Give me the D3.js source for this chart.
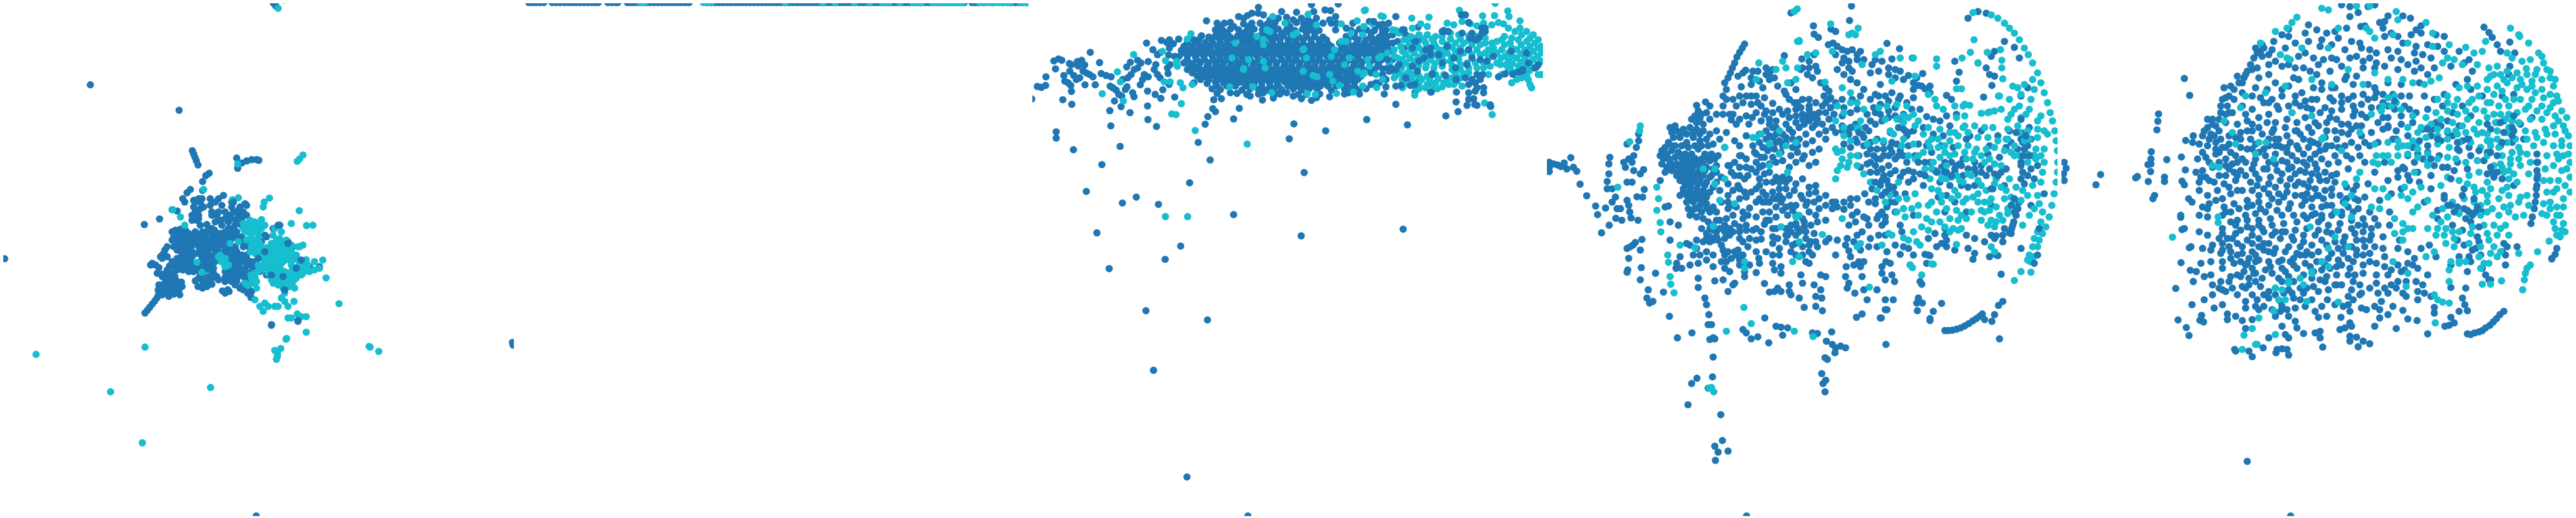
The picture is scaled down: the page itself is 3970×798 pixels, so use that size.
<!DOCTYPE html>
<html><head><meta charset="utf-8">
<script src="https://cdnjs.cloudflare.com/ajax/libs/d3/7.8.5/d3.min.js"></script>
<style>html,body{margin:0;padding:0;background:#fff}svg{display:block}</style></head><body>
<script>
const colors=["#1f77b4","#17becf"];
// Panel 1 (flat x,y lists, in embedding units)
const p1Dark=[273,256,541,333,14,781,1548,1034,1550,1042,774,1558,826,10,833,18,581,455,585,465,589,475,593,485,598,498,715,477,718,508,730,492,745,486,760,482,775,482,782,484,632,523,622,530,612,548,612,575,610,600,436,678,482,661,438,945,445,937,452,928,460,918,468,908,475,898,482,890,478,875,490,860,505,855,520,850,535,850,548,852,480,860,495,875,510,870,525,875,540,880,543,890,500,845,515,835,530,845,460,795,470,800,480,808,490,828,490,770,498,755,505,745,485,775,512,803,530,800,545,790,560,780,575,790,535,815,552,815,570,820,585,820,600,840,598,865,615,855,635,855,640,840,610,830,600,815,525,715,540,705,555,700,570,705,580,720,530,735,550,730,570,735,540,750,560,755,575,755,590,720,605,715,620,712,640,705,655,715,670,720,610,735,630,730,650,735,670,740,610,755,630,755,650,755,620,775,640,775,615,795,635,800,650,790,620,815,640,820,655,835,700,690,715,700,730,715,745,725,735,745,700,720,690,745,710,745,700,770,720,770,745,770,680,820,700,810,720,800,740,810,755,830,700,835,720,835,740,840,750,865,760,880,758,898,680,850,672,878,688,875,692,880,680,885,520,633,535,637,575,572,565,582,552,600,558,610,585,605,600,600,585,625,605,630,580,650,595,665,605,680,625,678,635,620,640,640,660,600,675,590,670,620,655,650,665,665,690,650,705,640,720,650,715,665,725,625,740,615,745,620,700,610,690,670,710,680,730,680,845,680,825,690,870,730,885,745,860,875,900,785,910,800,885,810,965,805,935,805,790,730,800,710,780,770,800,795,835,790,750,800,760,820,805,830,820,980,900,970];
const p1DarkFill=[520,700,530,695,545,692,560,695,520,725,535,720,550,715,565,720,578,745,525,745,545,742,560,745,495,765,505,775,490,780,520,790,535,780,550,772,565,770,580,775,525,805,540,805,560,800,575,805,590,810,590,700,600,725,600,745,595,765,625,700,645,715,660,730,685,710,685,730,680,755,660,760,640,745,625,745,610,775,630,785,645,810,625,800,610,805,605,825,630,835,640,858,612,870,590,848,660,845,680,805,695,790,710,795,730,790,745,795,695,805,710,815,730,815,745,825,695,825,715,850,735,860,700,850,680,838,745,850,755,880,590,640,600,650,590,610,605,610,615,625,580,665,635,600,650,610,640,650,650,670,670,680,660,640,680,640,680,660,700,660,720,635,735,640,745,650,730,660,715,640,700,625,690,690,705,700,685,700,500,865,490,890,505,885,480,885,515,860,530,865,540,860,550,865,515,880,455,800,475,825,490,835,505,815,520,825,760,790,770,790,765,810,785,820,745,780,730,770,715,760,
528,708,542,712,558,708,573,712,585,710,528,730,542,728,558,728,573,728,585,735,535,755,548,762,565,762,582,762,598,708,612,700,630,692,648,695,665,705,680,700,695,710,712,715,725,725,738,735,752,745,598,732,618,722,638,722,658,745,678,730,695,735,612,745,632,745,648,770,662,770,680,765,605,762,628,765,610,785,628,810,645,825,610,845,622,850,625,865,645,830,612,815,700,760,712,755,725,780,735,780,690,780,705,780,720,790,680,795,690,815,705,830,725,825,738,830,750,840,685,835,695,845,710,860,725,870,735,875,748,885,505,868,520,868,535,865,495,885,510,895,525,888,528,835,515,850,500,830,530,790,545,805,565,815,580,798,595,795];
const p1Teal=[109,1070,438,1048,334,1183,636,1170,430,1337,1115,1046,1118,1048,1144,1061,1024,917,985,839,925,1003,866,1022,864,1024,830,1058,848,1052,838,1065,835,1085,838,1075,840,25,718,495,898,487,905,480,915,468,814,598,798,610,795,625,904,636,880,675,926,681,615,572,545,655,522,633,558,680,720,597,702,603,790,663,775,675,760,680,745,690,770,695,755,705,735,690,780,715,760,730,745,725,720,730,695,735,665,780,680,790,665,770,690,800,595,792,610,822,785,735,790,760,770,755,830,690,850,700,825,710,845,720,860,730,835,740,855,750,870,760,835,775,855,790,840,800,815,810,830,820,845,820,860,820,880,835,900,745,880,740,915,740,905,825,840,860,830,810,850,820,865,835,840,850,855,870,860,885,850,900,840,925,830,925,810,925,795,940,800,915,785,925,770,905,860,910,870,925,870,960,890,870,850,815,895,808,910,790,925,784,950,790,965,810,975,785,950,815,880,960,888,910,898,948,910,956,925,956,945,680,905,745,850,760,880,790,880,780,862,785,858];
const p1TealFill=[745,675,755,665,770,670,785,680,750,695,765,700,780,705,760,720,775,725,775,745,760,745,755,760,770,765,780,800,795,780,805,770,820,760,835,755,850,760,865,750,880,745,820,735,835,725,850,735,865,725,820,780,835,770,850,780,865,775,800,800,815,795,830,790,810,825,825,815,820,845,835,835,850,835,865,825,880,820,895,825,910,830,885,850,870,850,855,855,840,860,825,855,875,865,895,840,915,815,930,800,905,800,900,785,935,820,918,790,668,790,680,780,690,800,660,775,680,805,760,840,775,850,770,825,795,810,775,870,760,855,740,855,
805,748,818,745,835,742,850,748,865,740,880,760,885,772,805,790,820,795,835,782,850,795,808,808,820,808,835,805,830,828,845,828,858,842,872,838,888,835,902,815,920,805,915,825,930,815,880,800,895,770,770,690,790,690,800,680,788,748,790,775,780,820,770,838,758,830,748,862,740,700,735,675];
const p1Top=[840,680,805,715,870,735,800,760,780,780,895,810,910,785,860,875,705,610,900,968,820,982,820,830,855,835,640,690,600,660];
// Panel 2 (x positions along the one-dimensional strip)
const p2DarkX=[815,820,826,832,838,851,857,863,870,876,882,888,894,900,906,912,918,922,937,943,949,952,967,972,977,983,990,996,1002,1008,1014,1020,1026,1032,1038,1044,1050,1056,1062,1090,1096,1102,1108,1114,1120,1126,1132,1138,1144,1150,1156,1162,1168,1174,1180,1186,1192,1198,1204,1210,1216,1222,1228,1234,1240,1246,1252,1258,1264,1270,1276,1282,1288,1294,1300,1306,1312,1318,1324,1330,1336,1342,1348,1354,1360,1366,1372,1378,1384,1390,1396,1402,1408,1414,1420,1426,1432,1438,1444,1450,1456,1462,1468,1474,1480,1486,1498,1503,1508,1516,1530,1545,1558,1564,1570,1576,1582];
const p2TealX=[987,993,1084,1090,1096,1210,1268,1287,1317,1340,1360,1365,1370,1387,1407,1412,1417,1420,1437,1443,1449,1455,1461,1467,1473,1479,1483,1510,1516,1522,1528,1534,1540,1546,1552,1557,1573,1578,1583,1586];
const p2Y=[4];
// Panel 3
const p3Dark=[0,299,17,261,29,264,42,258,43,232,72,208,67,184,81,178,91,182,94,301,121,315,120,276,118,258,97,228,100,245,110,250,114,192,120,195,138,186,151,182,140,199,160,196,177,158,205,189,115,215,127,228,135,240,145,235,155,214,165,220,175,225,185,232,192,256,161,256,210,222,225,228,240,232,237,260,245,265,255,272,263,285,272,290,250,305,236,334,270,322,297,340,239,380,350,320,351,361,377,382,305,280,309,292,288,262,283,270,275,240,290,235,300,225,310,210,287,202,298,188,320,182,330,190,352,186,320,205,340,225,328,256,335,240,352,232,350,275,373,285,390,297,396,271,415,255,432,293,412,222,410,205,418,195,380,225,388,235,370,210,375,195,380,165,390,158,366,150,347,130,392,122,408,128,416,120,428,132,444,118,416,145,414,166,432,170,452,152,460,140,470,128,490,120,513,108,528,63,74,398,74,417,126,452,267,442,212,497,165,578,274,613,316,595,383,617,197,703,450,743,403,783,234,811,345,938,531,966,368,1118,469,1440,653,1558,477,552,539,483,503,430,524,375,532,352,547,328,555,337,627,327,610,359,550,301,573,298,697,302,792,374,778,419,888,395,823,521,814,712,610,648,1122,692,1012,361,1135,377,1100,315,1251,350,1288,337,1282,308,1385,316,
685,22,625,50,652,47,665,40,684,40,755,35,770,52,800,37,845,14,852,35,886,30,903,32,926,12,918,50,920,70,1020,65,1060,73,1078,70,1100,50,1125,90,1167,82,1245,92,
560,70,582,70,600,68,640,72,665,70,690,70,712,72,735,68,770,70,800,68,822,72,845,68,905,70,970,70,
555,90,578,92,600,88,625,90,650,92,672,88,697,90,720,92,745,88,770,90,795,92,818,88,842,90,868,92,918,90,965,92,990,88,1012,90,1035,92,
512,110,535,112,555,108,580,110,600,112,622,108,645,110,668,112,690,108,715,110,738,112,760,108,785,110,808,112,830,108,855,110,880,112,950,110,975,112,1000,108,1025,110,1050,112,
500,130,525,128,548,132,570,130,592,128,615,132,638,130,660,128,682,132,705,130,728,128,752,132,775,130,798,128,820,132,845,130,870,128,895,132,930,130,955,128,980,132,1005,130,1030,128,1055,132,1075,130,
470,150,495,152,518,148,540,150,565,152,588,148,610,150,632,152,655,148,678,150,700,152,725,148,748,150,770,152,795,148,818,150,840,152,865,148,888,150,912,152,935,148,960,150,985,152,1010,148,1035,150,1058,152,
445,170,470,168,495,172,520,170,545,168,568,172,590,170,612,168,635,172,658,170,680,168,705,172,728,170,750,168,775,172,798,170,820,168,845,172,868,170,890,168,915,172,938,170,962,168,985,172,1010,170,1035,168,1060,172,
460,190,485,192,510,188,535,190,558,192,580,188,603,190,626,192,648,188,672,190,695,192,718,188,740,190,765,192,788,188,810,190,835,192,858,188,880,190,905,192,928,188,950,190,975,192,998,188,1022,190,1048,192,
470,210,495,208,520,212,545,210,568,208,592,212,615,210,638,208,660,212,685,210,708,208,730,212,755,210,778,208,800,212,825,210,848,208,870,212,895,210,918,208,940,212,965,210,988,208,1012,212,1035,210,1060,208,
500,230,525,232,550,228,575,230,598,232,620,228,645,230,668,232,690,228,712,230,735,232,760,228,782,230,805,232,830,228,852,230,875,232,900,228,925,230,948,232,972,228,995,230,
490,250,530,252,555,248,580,250,603,252,628,248,650,250,672,252,695,248,718,250,742,252,765,248,788,250,812,252,835,248,858,250,880,252,905,248,930,250,952,252,975,248,
545,268,570,270,635,272,660,268,685,270,708,272,730,268,755,270,790,268,815,272,838,268,862,270,905,272,945,268,965,270,988,272,
685,284,750,284,790,290,815,298,845,303,870,284,900,292,945,284,990,284,1065,284,1158,278,1207,278];
const p3DarkFill=[570,80,610,80,655,80,700,80,730,80,780,80,830,80,850,80,565,100,590,100,635,100,660,100,705,100,730,100,755,100,780,100,800,100,830,100,855,100,975,100,1000,95,1025,100,505,120,545,120,568,120,590,120,612,120,635,120,655,120,680,120,725,120,750,120,775,120,795,120,820,120,843,120,868,120,890,120,955,120,985,120,1010,120,1040,120,1062,120,485,140,510,140,535,140,560,140,582,140,605,140,628,140,650,140,672,140,695,140,718,140,740,140,765,140,785,140,810,140,832,140,855,140,880,140,905,140,945,140,970,140,995,140,1020,140,1045,140,1068,140,455,160,482,160,508,160,530,160,555,160,578,160,600,160,622,160,645,160,668,160,690,160,715,160,738,160,760,160,785,160,808,160,830,160,855,160,878,160,900,160,925,160,950,160,975,160,998,160,1022,160,1048,160,470,180,498,180,522,180,548,180,570,180,592,180,615,180,638,180,660,180,685,180,708,180,730,180,755,180,778,180,800,180,825,180,848,180,870,180,895,180,918,180,940,180,965,180,988,180,1012,180,1035,180,1058,180,478,200,505,200,530,200,555,200,578,200,600,200,622,200,645,200,668,200,690,200,715,200,738,200,762,200,785,200,808,200,830,200,855,200,878,200,900,200,925,200,948,200,972,200,995,200,1020,200,1045,200,485,220,510,220,535,220,560,220,582,220,605,220,630,220,652,220,675,220,698,220,722,220,745,220,768,220,790,220,815,220,838,220,860,220,885,220,908,220,930,220,955,220,980,220,1005,220,1025,220,510,240,535,240,562,240,588,240,610,240,635,240,658,240,680,240,702,240,725,240,750,240,772,240,795,240,820,240,842,240,865,240,890,240,915,240,938,240,960,240,985,240,560,260,590,260,615,260,645,260,670,260,695,260,720,260,745,260,775,260,800,260,825,260,848,260,872,260,895,260,920,260,955,260,975,260,1050,250,1070,240,1080,215,1090,180,1090,130,1075,110,700,280,720,275,770,280,805,285,830,285,860,295,958,280,1010,268,1070,262,1100,260,1120,242,1145,240,1170,245,
640,55,700,45,720,60,745,55,790,60,815,55,835,60,860,55,880,70,900,60,950,85,1040,80,1070,90,1090,105,1060,100,560,282,600,280,650,285,740,282,730,296,660,290,620,282,1040,250,1025,255,1060,225,1075,145,1090,155,1105,125,1125,145,1130,105,1150,125,1175,118,1075,205,1095,215];
const p3Teal=[213,283,277,305,308,165,259,217,268,247,423,344,436,346,452,313,494,394,651,435,404,654,471,654,1391,346,1368,311,1387,322,404,183,400,247,418,247,449,250,457,265,1157,287,481,102,470,118,395,155,438,185,440,200,485,255,598,262,1005,32,1008,30,1055,48,1062,50,1148,55,1200,52,1292,31,1304,45,1400,10,1438,33,1442,50,1475,63,1362,48,1398,47,
728,50,765,70,835,43,860,75,935,72,983,63,1003,80,1030,72,
615,130,605,175,640,207,655,180,680,110,700,120,720,95,710,90,700,185,705,205,640,210,822,148,800,100,790,105,820,215,830,175,862,232,850,228,700,135,820,150,915,150,905,170,935,125,950,125,965,100,1000,105,900,225,910,245,930,258,1015,180,1020,200,1005,220,985,215,1000,225,945,195,960,175,1048,175,1040,225,1060,240,921,282,972,278,1000,260,1042,264,725,280,668,262,832,283,857,285,
1090,90,1100,92,1110,100,1125,120,1150,85,1175,72,1195,80,1145,110,1170,105,1195,105,1220,110,1255,70,1275,75,1300,65,1325,72,1345,78,1365,70,1390,75,1410,68,1425,72,1440,85,1460,95,1475,85,1495,95,1515,105,1530,120,1540,140,1428,110,1405,125,1390,130,1370,115,1345,110,1320,108,1290,105,1265,100,1240,110,1215,130,1190,130,1165,130,1140,135,1115,140,1095,150,1075,160,1055,170,1080,190,1105,175,1130,165,1155,160,1180,155,1205,155,1230,150,1255,135,1280,130,1305,130,1330,135,1355,135,1380,150,1405,160,1428,135,1445,130,1470,120,1495,125,1520,130,1440,160,1465,150,1490,150,1515,155,1540,160,1440,185,1465,175,1490,175,1515,180,1538,185,1445,205,1470,200,1495,200,1520,205,1105,200,1130,190,1155,185,1180,180,1205,180,1230,175,1255,160,1280,155,1305,160,1330,165,1355,165,1380,175,1140,215,1165,210,1190,205,1215,205,1240,200,1265,185,1290,180,1315,190,1340,190,1365,190,1385,200,1095,235,1120,240,1145,230,1170,230,1195,230,1220,225,1245,225,1270,210,1295,210,1320,220,1120,265,1145,255,1170,255,1195,255,1220,250,1245,250,1270,235,1295,235,1380,225,1365,205,1170,268,1190,265,1225,268,1260,255,1300,260,1155,225,1100,228,1505,255,1510,265,1495,225,1465,240,1480,235,1450,250,1540,225,1405,190,1415,195];
const p3TealFill=[1135,120,1160,115,1185,118,1210,118,1240,125,1265,118,1295,118,1320,122,1345,122,1370,130,1395,145,1420,120,1450,115,1480,105,1505,115,1120,155,1145,150,1170,145,1195,142,1220,140,1245,150,1270,143,1295,145,1320,150,1345,150,1370,160,1392,165,1420,150,1450,145,1478,135,1505,140,1530,145,1452,170,1478,162,1502,165,1528,170,1452,192,1478,188,1505,190,1530,195,1095,170,1118,180,1142,175,1168,172,1192,168,1218,165,1242,165,1268,172,1290,170,1118,205,1142,200,1168,198,1192,195,1218,192,1245,185,1270,198,1295,195,1320,205,1345,205,1110,222,1128,225,1152,245,1178,240,1202,240,1228,238,1255,238,1280,225,1305,222,1130,252,1160,265,1210,258,1240,262,1275,255,1285,245,1440,210,1458,218,1480,220,1505,212,1430,170,1418,175,1432,195,1500,240,1530,225,1420,225];
const p3Top=[1033,65,1060,90,1050,75,1120,90,1245,95,1310,45,1298,45,1320,68,1360,85,1370,85,1370,95,1330,100,1300,100,1240,95,1160,125,1190,150,1205,145,1255,140,1230,165,1170,185,1150,145,1150,200,1210,225,1275,175,1295,155,1320,150,1340,120,1350,115,1315,195,1330,175,1355,180,1375,185,1395,170,1448,155,1495,160,1530,195,1520,205,1470,218,1500,190,1483,210,1130,235,1165,215,1110,195,1100,210,1085,205,1075,180,1185,175,1205,165,1240,190,1280,205,1325,115,1330,240,1345,225,1362,225,1310,235,1355,240,1340,250,1320,255,1345,265,1365,265,1320,280,1340,275,1365,280,1320,300,1335,298,1345,318,1315,318,1338,315,1283,278,1282,240,1250,228,1210,222,1205,278,1158,255,1144,258,1115,258,1410,232,1430,223,1453,224,1483,214,1525,202,1385,320,1258,95,1360,100];
// Panel 4
const p4Dark=[15,490,15,505,15,518,28,495,40,498,50,503,60,492,68,510,80,476,88,505,98,517,108,556,128,591,155,622,161,648,173,703,196,680,216,659,234,665,262,658,283,665,220,630,230,630,258,640,205,610,215,595,190,548,195,525,195,495,198,475,190,570,205,570,185,628,250,605,255,620,280,594,297,595,302,572,265,550,250,550,245,505,240,490,255,480,265,490,250,435,285,405,285,425,278,445,270,470,300,512,290,525,270,515,268,740,295,723,275,732,290,755,250,750,260,745,255,780,250,822,252,815,293,808,290,845,336,825,314,875,310,900,318,915,328,910,378,955,360,882,402,1020,446,1005,
928,18,922,62,745,39,813,78,815,103,828,113,866,88,880,95,1035,131,858,135,872,130,605,133,598,145,590,158,582,172,575,190,568,205,1073,147,885,140,900,150,915,155,930,150,955,155,945,165,880,165,725,168,778,178,800,185,815,165,905,175,920,185,1000,180,1020,185,1050,178,1112,175,1240,185,1310,190,1360,155,1350,170,1390,125,1420,143,1435,175,562,220,555,235,545,250,585,230,608,212,630,215,645,215,670,205,690,210,670,225,680,240,695,235,780,205,800,205,820,200,825,215,795,225,885,210,905,225,930,215,925,240,945,250,1040,205,1060,210,1075,215,1100,228,1125,235,1143,222,985,220,1015,255,1253,218,1245,245,1335,205,1345,225,1352,258,1360,230,595,262,550,270,540,290,550,300,540,320,590,290,610,290,625,255,660,265,640,290,665,295,730,285,740,300,760,270,745,250,765,310,780,300,800,320,820,310,850,265,845,290,865,295,880,310,965,270,1000,285,1030,290,1050,280,1075,290,1115,270,1130,258,1150,268,1165,280,1215,288,1230,300,1327,293,1440,290,1460,265,1115,295,460,318,487,308,500,320,625,315,655,320,690,312,
455,350,475,345,490,340,460,370,480,375,500,360,520,345,540,345,570,345,565,362,580,375,628,355,618,375,665,345,680,360,700,365,720,345,735,335,760,330,780,345,800,330,815,345,800,365,785,375,825,360,850,340,860,360,875,345,905,325,925,340,945,330,975,345,995,325,1015,315,1040,335,1060,325,1085,345,1110,330,1135,330,1155,352,1175,360,1195,365,1215,350,1245,345,
380,385,400,395,420,390,440,385,460,390,480,395,500,405,520,395,550,400,575,425,590,440,650,405,670,395,690,385,710,395,730,375,750,400,770,385,790,405,810,385,830,405,850,395,870,385,900,380,920,390,940,375,960,405,980,395,1000,375,1020,365,1045,400,1070,385,1095,410,1115,395,1145,385,1175,405,1205,410,1225,380,1285,410,1320,395,1370,410,1405,395,1440,400,1465,385,
355,455,375,430,390,415,410,415,430,430,450,415,470,425,490,420,510,435,530,420,650,430,670,420,690,415,710,425,730,430,750,445,770,420,790,435,810,425,830,450,850,420,905,435,925,445,945,430,965,415,985,430,1005,420,1025,450,1050,430,1075,455,1130,435,1155,440,1200,440,1235,445,1275,420,1345,440,1395,445,1445,430,1470,420,
350,470,370,465,385,455,405,460,425,465,445,465,465,450,485,465,505,465,525,470,545,445,555,500,575,490,590,470,610,480,635,460,655,475,675,455,695,450,715,460,745,470,765,460,785,470,810,460,950,470,975,465,995,470,1015,480,1040,470,1060,480,1095,490,1120,470,1170,460,1210,490,1245,500,1265,480,1300,490,1340,465,1375,475,1450,470,1475,470,1490,500,
355,495,380,490,400,495,420,490,440,490,460,490,480,495,500,485,520,500,520,520,535,535,565,520,590,530,605,540,625,510,640,490,660,500,680,495,700,490,720,485,740,505,760,490,780,480,800,500,820,490,955,505,975,495,1000,500,1020,510,1040,500,1060,515,1085,520,1115,520,1150,490,1180,515,1215,520,1240,520,1265,530,1300,525,1345,510,1360,525,1395,510,1445,520,1480,540,
365,520,385,515,405,520,425,515,445,515,465,520,485,515,505,530,410,545,430,540,450,540,470,545,490,550,520,550,555,555,585,560,605,580,625,580,650,560,665,525,680,520,700,535,720,535,740,540,760,555,780,540,800,565,820,580,850,590,870,610,885,625,905,632,925,620,945,600,968,585,990,570,1015,560,1035,545,1055,565,1100,550,1145,560,1195,550,1225,560,1280,565,1355,570,1450,555,1510,585,
350,545,420,570,440,565,460,570,480,575,410,590,430,590,450,590,470,600,490,595,530,575,555,610,590,600,610,595,650,600,670,590,690,580,710,570,730,550,755,575,775,590,795,610,815,610,830,630,945,640,965,655,980,680,1000,615,1020,640,1045,610,1060,640,1030,670,1020,680,1075,680,1115,650,1210,640,1240,610,1275,640,1350,620,1435,610,1430,630,1425,650,1418,670,1412,690,1470,620,
365,625,375,622,430,610,450,610,470,620,490,615,435,630,455,630,475,640,500,640,520,640,555,630,580,625,620,628,680,640,700,625,720,635,760,650,780,660,800,640,820,650,850,665,930,650,940,670,920,680,975,660,1010,650,1030,655,1080,700,
380,670,405,680,440,650,460,655,480,660,500,690,520,665,545,680,570,650,600,660,590,685,610,680,630,695,665,677,690,690,715,685,745,680,760,675,785,685,805,680,825,670,500,715,520,700,545,720,570,700,590,720,690,715,705,720,730,710,760,710,790,700,815,705,850,730,885,725,915,720,935,730,
380,725,410,775,430,735,440,740,460,725,480,730,490,720,500,730,520,715,535,740,560,710,575,760,600,730,615,745,655,722,690,735,710,750,730,730,750,740,780,745,800,760,825,745,860,720,920,757,955,755,980,745,1005,745,1035,760,1075,768,1100,750,1160,770,1185,745,1215,725,1240,755,1280,750,1300,765,1330,730,1365,712,1390,690,1440,750,1345,775,1295,783,1385,730,1405,703,1370,772,
400,795,398,810,415,810,440,800,465,795,490,785,510,805,545,770,550,790,580,770,590,785,648,780,650,795,690,795,695,815,715,805,715,825,790,790,800,795,745,760,912,805,950,790,965,790,955,805,1020,805,1045,795,1032,790,1020,825,1030,845,1050,830,1058,850,1105,800,1150,768,1165,772,1155,795,
465,840,465,868,485,900,490,920,497,950,515,848,540,845,555,880,570,860,575,855,605,820,605,835,640,823,665,856,680,882,695,880,715,880,705,870,740,860,740,880,745,890,770,900,775,830,780,855,835,830,850,835,815,860,835,875,820,895,838,900,840,938,820,925,785,928,910,835,920,855,915,870,938,885,965,875,1005,875,960,835,975,905,1030,905,1030,935,1015,960,1054,905,1135,850,1140,858,1130,900,1125,915,1142,915,1127,938,1200,916,1175,940,1165,962,1165,968,1380,828,
960,948,943,958,1018,960,1035,935,1385,910,1372,922,1360,950,1352,970,1375,1023,666,960,610,1005,600,995,625,1023,645,1017,678,1035,700,985,715,988,720,1012,735,990,868,1002,825,1007,810,1005,852,1030,870,1040,880,1050,895,1045,910,1050,878,1065,1032,1040,848,1080,855,1085,838,1128,850,1148,842,1158,848,1183,510,1078,508,1138,461,1142,445,1158,495,1172,434,1222,533,1252,538,1330,515,1347,525,1365,555,1362,517,1390,611,1558,
505,980,495,980,500,1025,510,1020,515,1023,
1210,998,1220,998,1232,997,1245,994,1258,990,1270,984,1282,977,1294,969,1305,962,1315,955,1323,948,1330,965,1365,770,1280,55,1310,35,1335,40];
const p4DarkFill=[385,400,395,380,410,405,430,405,450,400,470,405,445,360,470,358,465,335,378,435,395,440,415,440,435,445,455,440,475,440,495,440,365,445,360,480,375,478,395,475,415,478,435,478,455,478,475,480,495,480,515,480,370,505,390,505,410,505,430,503,450,503,470,505,490,505,510,510,400,530,420,530,440,528,460,530,480,530,500,535,425,555,445,553,465,555,485,560,510,565,420,580,440,578,460,582,480,585,500,580,440,600,460,600,480,605,445,640,465,628,490,628,510,625,495,670,510,680,530,665,550,660,475,690,490,705,510,695,530,690,510,725,525,725,545,700,560,690,575,675,590,700,610,695,540,755,555,760,565,780,585,755,600,770,640,610,660,610,680,610,700,600,720,600,740,590,660,640,670,610,690,600,650,540,670,550,690,550,710,550,730,570,710,590,660,580,640,570,730,415,750,420,765,440,720,440,700,430,680,440,660,445,700,405,680,410,720,405,740,390,760,370,780,360,800,345,820,375,840,375,810,355,830,340,790,355,755,310,775,325,800,300,850,310,865,325,900,350,880,400,900,395,920,405,940,420,965,440,985,450,1005,450,1025,430,1045,445,1065,435,1005,520,1025,530,1045,525,1020,545,1040,575,1020,590,1060,585,985,490,1005,480,1025,470,1050,460,1070,470,1085,470,1100,440,1090,395,1075,360,1060,350,1040,355,1015,345,1000,340,985,365,970,385,1165,490,1200,505,1230,490,1255,495,1280,510,1320,500,1335,530,1370,530,1390,560,1440,540,1460,530,1470,510,1440,500,1430,450,1410,430,1300,560,1260,560,1215,590,1190,595,1210,710,1200,735,1215,745,1300,720,1275,710,1350,710,1385,710,1425,625,1420,640,1410,705,1460,440,1440,420,1115,540,1135,525,1075,535,800,585,790,620,780,600,760,620,745,620,715,610,735,650,760,680,770,700,790,720,805,730,760,735,735,710,800,740,820,730,880,610,905,610,925,600,
600,220,625,235,650,245,680,220,705,260,725,275,775,210,810,235,835,250,860,275,900,190,920,205,945,180,965,180,990,195,1010,215,1040,225,1060,235,1085,240,1115,250,1140,260,1165,260,570,300,580,320,600,310,625,290,645,310,670,335,690,340,710,330,740,355,760,350,840,320,860,300,900,300,930,300,955,290,985,300,1010,290,1040,305,1070,300,1095,310,560,345,590,360,610,350,640,340,655,365,680,375,700,385,610,410,630,440,595,470,610,505,590,505,575,530,560,500,640,465,665,475,690,475,640,520,650,505,615,530,590,570,570,575,555,590,535,610,570,620,600,640,615,650,640,655,670,665,640,690,655,700,620,720,640,725,680,665,700,655,730,625,750,635,700,690,730,690,745,700,765,690,785,670,760,770,780,770,810,770,590,800,620,800,640,760,670,760,690,770,710,770,535,790,545,810,560,820,510,770,490,760,460,750,470,770,450,770,820,560,830,600,850,620,870,630,980,610,1000,600,1005,660,1030,710,1010,710,985,720,945,710,960,700,1090,585,1060,610,1035,625,1160,720,1180,705,1210,690,1060,740,1085,745,1115,770,925,775,935,800,910,740,880,770];
const p4Teal=[764,27,755,35,770,122,765,125,1295,38,1350,45,1370,55,1390,70,1405,85,1420,100,1435,120,1450,145,1462,165,1475,190,1490,220,1500,250,1510,280,1520,310,1528,340,1535,365,1542,395,1546,425,1550,455,1551,490,1550,520,1546,550,1540,585,1533,620,1525,655,1515,685,1505,705,1495,725,1490,745,1478,775,1468,790,1470,822,1440,820,1420,847,1298,120,1287,158,1262,175,1338,158,1378,150,1382,182,1382,205,1385,238,1372,290,1380,330,1310,190,1185,178,1185,200,1245,268,1260,268,1115,175,
290,380,288,395,258,428,222,565,340,565,345,600,340,635,350,672,352,700,373,770,410,740,375,792,380,835,382,858,392,884,455,748,550,1000,625,977,755,1000,812,1016,505,1170,512,1183,498,1172,603,928,982,867,1105,800,1112,808,1140,830,1170,797,
865,72,920,105,930,100,948,85,940,105,770,125,648,190,640,240,730,205,720,185,765,205,700,210,760,240,735,250,848,248,820,160,795,165,870,155,960,195,1000,165,1015,155,1050,245,1075,175,1120,230,1160,285,1180,300,1185,320,1205,330,1240,320,1265,320,1285,318,1320,342,1345,338,1375,290,1415,260,1430,265,1450,255,1475,240,1405,300,1420,330,1435,320,1465,330,1490,365,1400,360,1360,335,
900,265,925,280,885,320,905,340,925,310,945,310,965,330,880,365,905,385,930,385,955,365,1010,325,1035,320,1065,315,1095,320,1085,370,1045,395,1130,365,1115,345,1160,385,1195,390,1225,400,1245,355,1270,350,1265,385,1300,380,1330,385,1355,385,1400,390,1430,380,1460,395,1490,415,1520,405,
640,415,655,405,710,395,680,435,710,465,730,440,760,430,885,460,900,480,920,490,945,470,975,435,1000,425,1025,425,1055,405,1085,420,1115,435,1160,430,1190,420,1225,425,1250,440,1280,440,1305,450,1335,450,1360,445,1420,440,1450,425,1485,450,1510,450,
545,445,515,510,480,510,515,555,545,540,575,615,530,605,630,415,680,500,735,520,885,515,880,540,990,550,1045,590,1030,610,1070,550,1120,480,1150,510,1175,490,1195,520,1215,500,1245,530,1275,480,1300,460,1330,490,1365,540,1380,500,1420,470,1460,490,1500,470,1505,520,1480,470,
1165,540,1190,575,1215,540,1240,575,1265,550,1290,530,1320,560,1350,600,1380,565,1405,540,1460,590,1495,615,1480,630,1465,650,1445,680,1320,635,1345,635,1350,665,1365,670,1385,665,1400,630,1415,615,1345,610,1310,610,1275,600,1250,590,1200,610,1170,610,1160,620,1130,650,1155,660,1185,640,1225,660,1250,665,1275,660,1160,695,1195,670,1250,695,1235,690,
1090,655,1065,640,1040,705,1050,710,1085,718,1125,730,1135,740,1100,725,1245,738,1330,640,1175,798,1350,745,1360,760,840,708,900,660,955,735,945,745,1020,740,770,775,750,790,715,685,770,730,770,650,760,655,510,683,605,790,605,810];
const p4TealFill=[1100,355,1120,380,1145,405,1170,420,1210,440,1240,465,1270,460,1295,480,1320,470,1345,480,1360,495,1390,455,1410,460,1435,470,1460,465,1485,480,1510,490,1195,475,1225,470,1170,510,1200,540,1230,535,1255,545,1280,525,1310,545,1335,575,1360,555,1395,575,1425,565,1445,575,1475,560,1500,550,1310,585,1330,610,1365,625,1390,600,1410,595,1440,605,1170,570,1200,590,1230,600,1265,610,1295,595,1215,630,1245,635,1260,650,1290,640,1320,665,1340,680,1360,685,1375,650,1400,645,1490,590,1505,640,1500,670,1490,700,1480,720,1475,745,1465,770,1460,785,1130,620,1120,585,1095,600,1070,600,1085,630,1110,630,1140,685,1115,700,1170,670,1210,685,1225,700,1260,690,1080,440,1100,470,1130,470,1145,460,1400,420,1435,400,1465,420,1490,390,1510,395,1500,350,1470,300,1480,270,1440,285,1410,345,1455,345,1440,355,1085,350,1065,360,1030,360,950,385,905,410,925,425,945,390,880,450,900,455,925,470,895,500,915,505,945,500,965,525,985,550,1005,575,1270,315,1340,340,1250,410,1280,400,1310,415,1340,415,1370,425,1395,420,1165,445,1190,445,1210,460,1240,400,1270,380];
const p4Top=[1445,470,1450,450,1440,490,1465,470,1420,600,1350,570,1370,530,1380,520,1300,510,1240,510,1210,520,1185,520,1040,560,1030,580,1000,550,985,520,950,400,925,385,1100,400,1085,390,1410,620,1430,630,1425,650,1415,680,1455,410,1425,400,1440,360,1495,690,1490,770,1480,795,1360,720,1230,530,1260,500,1320,520,1150,530,1100,515,1130,490];
// Panel 5
const p5Dark=[22,490,28,508,20,525,22,545,118,558,132,527,243,533,238,537,276,548,283,518,275,497,284,495,284,480,285,458,332,482,325,535,325,548,290,600,295,590,385,237,401,288,307,344,305,366,302,392,389,424,412,410,410,430,376,474,388,513,378,547,385,558,398,600,408,610,374,656,374,650,385,690,378,693,405,745,400,748,375,793,403,816,421,820,412,850,359,871,408,920,366,966,391,989,399,1013,432,967,443,972,437,952,575,1393,706,1558,
860,15,885,20,910,38,940,20,960,15,885,50,1000,48,1045,48,1068,55,975,68,990,65,985,85,1100,78,1085,90,1290,82,1305,98,1315,113,1330,135,1340,155,1368,127,1383,160,1368,200,1365,225,
700,88,680,105,760,75,750,100,785,90,815,100,840,95,875,85,918,80,930,78,1010,100,1030,110,1070,105,1100,100,1145,105,1170,110,655,125,620,135,625,145,605,160,595,175,585,195,575,215,565,235,545,230,535,270,505,265,700,110,760,125,800,120,850,115,890,125,915,130,990,110,1045,130,1085,140,1120,135,1150,140,
650,150,690,145,720,130,795,140,830,135,870,150,920,145,945,150,965,160,1000,150,1030,155,1080,160,1105,165,1130,175,1170,155,1215,155,1245,180,620,170,730,170,775,175,805,180,845,180,885,175,945,175,1010,175,1040,180,1190,200,1230,190,1240,240,1255,215,
520,290,500,300,495,320,515,320,535,300,605,205,640,195,610,235,640,225,680,200,715,235,745,205,765,215,785,225,825,215,875,230,905,230,925,205,960,205,1100,205,1120,225,1080,215,560,250,600,265,635,270,660,250,700,260,730,240,775,265,800,250,840,265,870,240,895,255,940,255,960,265,1000,250,1040,255,1095,250,1205,255,1285,290,1250,270,1345,290,1380,285,
560,320,590,330,625,310,650,300,680,290,720,290,750,305,785,300,825,295,860,290,895,290,925,285,965,280,985,285,1015,285,1065,290,1110,290,1140,300,1170,285,1225,320,
470,360,490,360,510,345,530,340,455,385,480,380,510,370,545,375,575,365,610,355,640,345,670,330,710,340,735,320,770,330,795,340,830,335,860,330,895,320,920,315,950,325,985,310,1020,330,1050,320,1085,340,1120,330,1165,320,1195,340,1250,350,
440,410,465,405,490,395,520,410,555,420,590,395,620,405,655,390,690,385,725,370,750,355,780,370,815,370,845,360,880,375,905,380,935,355,970,370,1000,355,1040,350,1075,370,1105,390,1145,370,1180,365,1215,380,1245,420,1330,370,1350,365,1310,390,1380,395,1400,375,1435,355,
430,435,455,440,480,430,510,445,540,470,575,450,600,435,640,440,670,420,705,430,735,405,770,400,810,415,845,420,880,405,920,410,950,400,985,390,1025,395,1060,410,1090,430,1130,410,1160,425,1195,410,1245,445,1300,460,1340,440,1375,430,1410,420,
425,480,450,475,480,465,510,480,570,490,600,480,630,470,660,465,695,460,730,450,760,445,795,455,830,440,870,440,910,445,945,440,970,430,1015,420,1075,445,1120,440,1155,470,1210,450,1290,485,1315,520,
420,520,440,515,470,505,520,510,555,515,590,510,625,510,660,495,695,490,725,485,765,480,800,480,840,470,875,470,915,470,930,490,1030,515,1050,510,1080,490,1105,480,1140,500,1250,470,1450,465,1452,490,1450,515,1450,540,1450,560,1448,590,
430,550,460,545,505,555,540,545,585,550,610,540,645,535,680,525,720,525,750,520,785,510,820,495,845,525,880,510,960,520,990,490,1030,535,1060,530,1090,520,1130,530,1200,515,1240,510,1320,535,1380,560,
430,575,455,590,485,575,525,585,560,575,590,575,625,570,660,565,695,560,730,550,765,545,795,545,840,550,875,565,905,560,940,555,1000,545,1095,550,1130,570,1170,590,1230,570,1445,610,1442,630,1436,655,1432,675,
440,625,460,615,505,625,535,615,575,625,610,610,650,600,685,595,720,590,755,585,790,590,830,590,865,610,900,600,930,595,975,605,1010,585,1040,570,1110,610,1150,635,1210,625,1240,635,1285,640,
430,650,455,655,500,650,525,640,570,650,600,645,630,640,665,635,700,630,740,620,770,625,800,625,840,640,880,625,910,630,945,640,1005,640,1150,660,1195,680,1225,695,1250,670,
430,700,455,710,500,705,540,705,575,685,610,680,650,680,685,675,725,670,755,660,790,670,820,680,855,675,890,665,930,680,960,660,985,715,1035,725,1060,760,1270,715,1275,730,
440,750,465,755,500,735,530,720,575,725,610,720,640,735,675,720,710,715,745,710,780,710,830,705,870,715,900,705,925,700,950,710,985,750,1030,750,
435,795,465,790,495,765,525,760,560,765,590,760,625,755,660,750,700,745,735,745,770,740,815,740,850,750,890,745,930,745,960,745,990,775,1030,800,1060,795,1075,800,1100,750,1125,740,1145,775,1215,775,1230,740,1245,775,1285,810,1295,830,1310,845,1355,770,1390,745,1495,780,1510,750,
465,830,500,810,535,795,570,800,600,790,640,790,680,785,715,780,750,770,785,790,820,780,860,800,895,790,925,770,965,795,990,805,1040,820,
445,835,470,860,495,850,520,850,555,835,595,825,620,840,650,825,690,820,725,810,765,805,800,815,845,830,885,810,925,825,965,830,1010,860,1030,850,1055,850,1085,850,
470,890,500,875,545,890,580,860,615,865,640,880,680,850,715,850,755,870,790,880,820,875,860,860,890,875,920,885,970,885,1000,885,1045,885,1090,880,1110,885,1120,830,
445,905,475,930,500,920,570,910,605,905,640,900,675,910,715,900,770,905,817,905,895,905,915,890,980,910,975,935,1015,925,1055,895,1090,905,1140,928,1190,868,1225,900,1232,920,1240,938,1235,870,
515,948,515,965,540,955,560,968,590,965,610,935,660,955,680,925,695,935,720,930,780,940,790,958,815,955,858,958,885,940,920,930,935,935,1045,937,1060,963,1088,968,1140,945,1215,940,1190,958,1200,975,1172,985,1185,982,
570,992,640,1020,680,985,690,1010,700,1020,720,970,725,990,745,1007,780,1005,795,1000,795,1020,803,1048,855,995,870,990,885,975,890,985,885,1015,885,1030,905,1018,925,1030,945,1038,910,1047,960,985,1025,992,1120,1008,1240,1008,1250,1010,1262,1005,1275,1002,1285,998,1295,990,1308,982,1318,972,1328,962,1338,950,1350,940,
537,1055,540,1060,580,1060,590,1077,623,1050,662,1065,680,1053,695,1055,700,1072,665,1055,1305,845,1505,768,1495,782];
const p5DarkFill=[600,145,615,155,590,210,570,225,550,250,525,260,510,295,520,340,495,340,470,375,455,360,445,395,460,420,475,410,495,420,500,445,480,450,440,460,460,490,490,490,510,500,530,495,545,490,535,520,510,530,490,530,450,535,435,535,475,550,520,565,500,600,480,605,455,630,510,640,525,670,500,690,515,720,490,720,470,740,500,755,520,745,545,735,560,745,545,770,525,780,500,790,555,790,580,780,600,770,590,810,565,820,545,830,525,835,580,840,600,850,570,870,530,870,510,880,490,870,650,400,670,440,695,410,720,395,745,420,765,425,790,435,815,395,840,395,860,400,585,420,610,460,640,420,660,440,680,445,710,470,745,465,780,465,810,450,755,500,780,495,810,520,830,530,760,565,780,570,750,605,770,600,810,575,830,570,720,560,695,580,670,610,640,620,615,630,590,620,550,630,545,665,590,690,625,700,660,700,690,700,720,695,755,690,790,695,815,700,850,695,865,730,890,690,910,680,925,725,945,725,905,770,880,780,850,785,825,810,800,790,770,770,735,770,705,790,670,790,640,760,610,745,600,825,630,815,670,840,660,870,700,835,745,830,745,885,710,885,685,885,770,840,795,845,815,835,840,860,895,850,900,830,1000,830,1050,815,1080,780,1090,810,1105,860,1130,895,800,660,830,650,860,650,1190,800,1240,820,1280,770,1255,755,1250,790,680,270,700,320,740,280,770,300,800,270,830,265,860,310,895,350,920,345,960,295,1000,320,1040,290,1065,330,1000,385,985,355,1040,375,1025,420,1060,470,1090,465,1135,390,1160,380,1180,400,1120,460,1165,505,1180,505,1210,490,1225,425,1180,620,1230,630,1255,650,1265,640,1210,725,1265,750,1355,800,1345,760,
640,165,660,185,700,195,720,205,750,160,790,195,830,175,860,200,905,170,925,185,965,190,990,200,1030,210,1060,195,1085,185,1140,205,560,280,590,290,615,295,640,310,665,320,720,310,755,325,810,325,835,305,880,300,900,335,940,300,975,325,570,345,590,375,610,385,635,370,660,370,695,360,725,395,760,385,790,380,825,355,860,375,890,390,920,380,555,400,575,395,540,415,520,435,490,460,525,460,555,445,590,450,625,450,660,420,695,445,725,440,775,430,815,440,850,445,890,430,930,430,560,480,595,495,640,490,680,485,710,505,745,490,790,530,815,545,850,490,890,480,545,530,570,530,600,525,635,510,665,515,700,510,735,515,770,525,605,560,640,555,675,545,705,540,745,555,785,590,805,600,815,620,855,590,895,575,545,575,575,605,610,590,640,585,670,585,705,615,740,590,770,650,800,650,830,620,875,600,910,605,575,665,610,665,645,660,680,650,715,650,745,650,780,645,860,640,895,640,925,660,540,680,555,695,590,710,620,690,650,710,680,700,715,725,745,730,800,725,840,730,870,745,905,725,950,690,970,680,1005,680,590,735,625,735,655,765,690,760,725,765,755,760,790,760,830,765,865,765,905,755,945,765,575,795,610,785,645,805,680,810,715,800,750,795,775,820,810,800,845,805,880,830,925,800,945,790,965,855,1010,815,560,865,590,890,625,890,660,890,700,875,735,870,775,865,810,850,845,860,880,895,915,860,945,870,990,870,1025,870,570,930,600,925,625,925,650,935,675,940,700,955,735,905,750,925,800,925,840,920,865,925,880,920,960,925,1000,950,975,960];
const p5Teal=[349,716,487,655,487,672,555,325,505,365,530,400,540,435,470,500,490,505,610,430,632,430,600,465,655,480,710,340,770,350,805,415,800,420,660,870,680,875,735,840,745,860,700,855,770,820,820,805,1015,790,1060,825,1055,865,1140,890,1150,905,1165,912,1185,915,1143,975,1185,850,1215,795,1235,790,1280,810,1285,858,1310,858,1343,848,1407,875,1412,845,1415,825,1420,810,1430,800,1452,760,1487,728,1395,765,560,1055,600,1040,605,1040,565,1012,590,992,660,1010,655,938,850,912,610,960,670,905,690,905,755,910,
800,25,820,30,905,18,945,18,1025,35,1030,60,1115,68,725,52,710,68,695,85,660,95,615,130,675,165,695,175,705,180,740,145,820,145,850,85,935,85,945,95,960,115,1015,105,1060,130,1135,100,1185,135,1235,143,1260,160,1285,155,1295,125,1370,85,1395,105,1398,110,1425,130,1455,160,1430,180,1465,170,1405,185,1360,160,1375,175,
1135,140,1165,190,1180,175,1200,180,1225,195,1270,195,1305,205,1330,200,1360,215,1418,207,1450,210,1480,210,1490,235,1500,260,1510,290,1465,240,1435,245,1400,240,1350,240,1320,225,1300,240,1270,260,1240,260,1215,265,1155,235,1130,245,1110,255,1075,250,1045,240,1000,240,960,220,925,255,880,210,830,255,770,240,690,260,630,280,570,290,
1150,300,1180,290,1210,300,1245,310,1275,290,1300,270,1330,260,1360,250,1390,265,1420,270,1445,280,1470,295,1500,310,1525,335,1540,355,1400,300,1425,320,1365,320,1335,320,1310,310,1340,345,1365,345,1390,340,1415,330,1450,335,1480,340,1505,350,1530,380,1545,410,1500,380,1465,360,1430,360,1395,370,1365,385,1330,395,1300,405,1275,370,1240,360,1210,345,1180,335,1145,340,1115,355,1075,350,1040,330,1010,320,980,335,950,345,1020,290,1000,295,
1060,385,1090,400,1120,385,1150,390,1180,395,1205,395,1235,400,1270,405,1300,425,1330,420,1360,400,1385,420,1415,395,1445,400,1475,390,1505,405,1525,425,1550,440,1500,440,1470,430,1440,440,1400,460,1375,460,1345,470,1310,440,1280,445,1250,430,1215,430,1185,445,1150,435,1120,465,1090,450,1060,440,1030,445,1000,430,960,435,915,400,860,455,
970,495,1000,470,1030,470,1060,465,1090,475,1120,490,1150,480,1180,475,1205,480,1235,490,1270,485,1300,470,1340,495,1370,495,1400,500,1430,490,1480,470,1510,465,1530,470,1550,490,1500,500,1475,510,1525,515,1550,535,1490,545,1470,545,1425,525,1380,525,1350,520,1300,550,1275,520,1245,530,1215,545,1180,535,1160,560,1100,565,1075,580,1050,565,1040,590,1060,600,
915,520,905,540,870,555,960,570,985,570,1000,595,975,630,950,625,890,655,1090,625,1120,605,1165,630,1195,610,1230,600,1265,580,1300,590,1335,600,1365,590,1395,610,1420,590,1470,615,1500,580,1530,600,1550,580,1510,625,1480,650,1520,650,1500,670,1530,675,1535,700,1520,715,1505,690,1410,650,1385,655,1365,640,1335,650,1315,630,1280,620,1260,610,1215,645,1180,655,1160,670,1120,690,1145,710,1170,710,1195,700,1215,700,1250,705,1300,705,1330,710,1355,680,1365,710,1320,745,1340,760,1290,795,1305,795,1245,735,1200,745,1190,790,1215,790,1275,775,1020,660,1045,675,1075,640,1045,700,1075,690,1020,705,880,745,1115,775,1140,760,1185,815,870,615,845,640,890,590,765,685,820,750,840,715,800,790,770,825,700,850];
const p5TealFill=[1310,230,1340,225,1375,235,1405,255,1435,260,1465,270,1490,285,1515,305,1345,275,1320,285,1300,310,1380,300,1355,300,1320,345,1300,355,1375,365,1355,360,1325,370,1435,300,1465,320,1490,325,1515,365,1535,395,1480,405,1450,415,1420,420,1395,445,1360,430,1335,445,1310,425,1285,400,1260,390,1225,380,1195,370,1160,360,1130,375,1100,385,1370,480,1395,480,1420,465,1345,505,1320,500,1365,515,1365,540,1390,550,1360,565,1345,575,1310,570,1285,575,1260,565,1240,555,1525,440,1545,465,1515,480,1540,510,1515,545,1535,560,1510,570,1480,580,1490,610,1530,625,1510,650,1525,695,1510,710,1490,630,1465,645,1425,620,1400,595,1370,620,1350,625,1300,610,1300,640,1280,650,1255,685,1290,680,1320,680,1340,690,1305,725,1280,745,1310,765,1330,775,1200,720,1175,735,1150,690,1135,650,1175,690,1060,690,1045,725,1120,500,1080,520,1010,490,985,470,955,490,965,470,1045,440,1075,425,1150,410,1180,420,1210,405,1115,415,1090,430,1030,425,985,320,1025,310,1255,300,1290,335,1265,330,1235,335,1200,320,1180,310,1470,190,1490,215,1505,240,1445,225,1420,225,1390,220];
const p5Top=[1450,490,1452,530,1448,570,1340,370,1375,385,1310,460,1345,430,1380,350,1210,430,1215,455,1130,480,1150,420,1190,540,1225,590,1270,625,1245,640,1350,735,1360,745,1190,620,1120,390,1045,505,1065,545,1000,380,1020,305,1345,540,1330,520,1275,455,1310,505,1240,420,1095,425,1300,375,1350,400,1375,410,1330,470,1300,525,1260,600,1235,660,1275,685,1200,640,1170,600];
const cropLeft=[0,0,1590,2380,3170];
const W=3970,H=798;
const pts=a=>d3.range(0,a.length,2).map(i=>[a[i],a[i+1]]);
const svg=d3.select("body").append("svg").attr("width",W).attr("height",H).style("background","#fff");
const defs=svg.append("defs");
const R=5.6;
function draw(i,layers){
  const left=5+793*i;
  defs.append("clipPath").attr("id","c"+i).append("rect").attr("x",left).attr("y",5).attr("width",787).attr("height",790);
  const g=svg.append("g").attr("clip-path",`url(#c${i})`);
  const x=d3.scaleLinear().domain([0,1568]).range([cropLeft[i],cropLeft[i]+800]);
  const y=d3.scaleLinear().domain([0,1564]).range([0,798]);
  layers.forEach(([arr,col])=>{
    g.append("g").selectAll("circle").data(pts(arr)).join("circle")
     .attr("cx",d=>x(d[0])).attr("cy",d=>y(d[1])).attr("r",R).attr("fill",col);
  });
}
draw(0,[[p1Dark,colors[0]],[p1DarkFill,colors[0]],[p1Teal,colors[1]],[p1TealFill,colors[1]],[p1Top,colors[0]]]);
{ // panel 2 strip
  const left=5+793;
  defs.append("clipPath").attr("id","c1").append("rect").attr("x",left).attr("y",5).attr("width",787).attr("height",790);
  const g=svg.append("g").attr("clip-path","url(#c1)");
  const x=d3.scaleLinear().domain([790,1590]).range([790,1590]);
  const y=d3.scaleLinear().domain([0,798]).range([0,798]);
  [[p2DarkX,colors[0]],[p2TealX,colors[1]]].forEach(([arr,col])=>{
    g.append("g").selectAll("circle").data(arr).join("circle")
     .attr("cx",d=>x(d)).attr("cy",y(p2Y[0])).attr("r",R).attr("fill",col);
  });
}
draw(2,[[p3Dark,colors[0]],[p3DarkFill,colors[0]],[p3Teal,colors[1]],[p3TealFill,colors[1]],[p3Top,colors[0]]]);
draw(3,[[p4Dark,colors[0]],[p4DarkFill,colors[0]],[p4Teal,colors[1]],[p4TealFill,colors[1]],[p4Top,colors[0]]]);
draw(4,[[p5Dark,colors[0]],[p5DarkFill,colors[0]],[p5Teal,colors[1]],[p5TealFill,colors[1]],[p5Top,colors[0]]]);
</script></body></html>
